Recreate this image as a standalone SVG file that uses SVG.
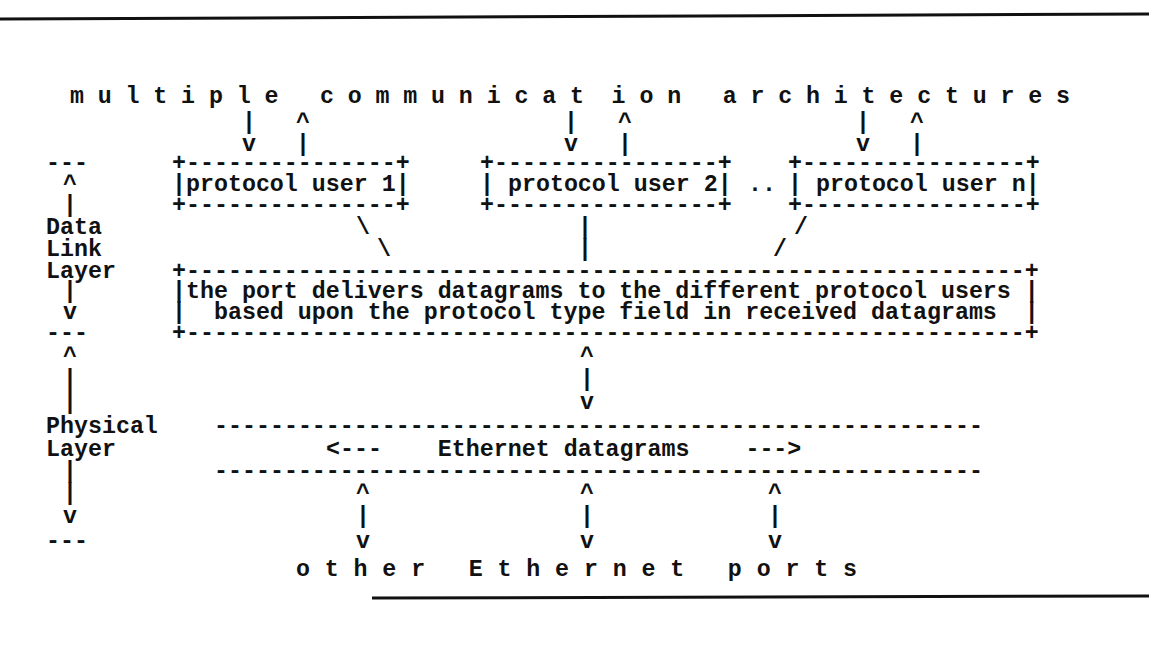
<svg xmlns="http://www.w3.org/2000/svg" width="1149" height="660" viewBox="0 0 1149 660">
<style>
text{font-family:"Liberation Mono","DejaVu Sans Mono",monospace;font-size:23.3px;font-weight:bold;fill:#111;white-space:pre}
.rule{stroke:#111;stroke-width:3;fill:none}
</style>
<rect width="1149" height="660" fill="#fff"/>
<g id="rules">
<line class="rule" x1="0" y1="19" x2="1149" y2="14"/>
<line class="rule" x1="372" y1="598" x2="1149" y2="596"/>
</g>
<g id="architectures">
<text x="70" y="103" textLength="1000" lengthAdjust="spacing" xml:space="preserve">m u l t i p l e   c o m m u n i c a t  i o n   a r c h i t e c t u r e s</text>
</g>
<g id="layer-labels">
<text x="46" y="170">---</text>
<text x="63" y="191">^</text>
<text x="63" y="212">|</text>
<text x="46" y="234">Data</text>
<text x="46" y="256">Link</text>
<text x="46" y="278">Layer</text>
<text x="63" y="298">|</text>
<text x="63" y="319">v</text>
<text x="46" y="340">---</text>
<text x="63" y="363">^</text>
<text x="63" y="386">|</text>
<text x="63" y="409">|</text>
<text x="46" y="433">Physical</text>
<text x="46" y="456">Layer</text>
<text x="63" y="478">|</text>
<text x="63" y="500">|</text>
<text x="63" y="523">v</text>
<text x="46" y="548">---</text>
</g>
<g id="protocol-user-1">
<text x="172" y="170">+---------------+</text>
<text x="172" y="191">|protocol user 1|</text>
<text x="172" y="212">+---------------+</text>
</g>
<g id="protocol-user-2">
<text x="480" y="170">+----------------+</text>
<text x="480" y="191" xml:space="preserve">| protocol user 2|</text>
<text x="480" y="212">+----------------+</text>
</g>
<g id="ellipsis">
<text x="748" y="191">..</text>
</g>
<g id="protocol-user-n">
<text x="788" y="170">+----------------+</text>
<text x="788" y="191" xml:space="preserve">| protocol user n|</text>
<text x="788" y="212">+----------------+</text>
</g>
<g id="port">
<text x="172" y="278">+------------------------------------------------------------+</text>
<text x="172" y="298" xml:space="preserve">|the port delivers datagrams to the different protocol users |</text>
<text x="172" y="319" xml:space="preserve">|  based upon the protocol type field in received datagrams  |</text>
<text x="172" y="340">+------------------------------------------------------------+</text>
</g>
<g id="ethernet">
<text x="214" y="433">-------------------------------------------------------</text>
<text x="326" y="456" xml:space="preserve">&lt;---    Ethernet datagrams    ---&gt;</text>
<text x="214" y="478">-------------------------------------------------------</text>
</g>
<g id="other-ports">
<text x="296" y="576" textLength="561" lengthAdjust="spacing" xml:space="preserve">o t h e r   E t h e r n e t   p o r t s</text>
</g>
<g id="connectors">
<text x="242" y="129">|</text><text x="296" y="129">^</text>
<text x="564" y="129">|</text><text x="618" y="129">^</text>
<text x="856" y="129">|</text><text x="910" y="129">^</text>
<text x="242" y="151">v</text><text x="296" y="151">|</text>
<text x="564" y="151">v</text><text x="618" y="151">|</text>
<text x="856" y="151">v</text><text x="910" y="151">|</text>
<text x="356" y="234">\</text><text x="578" y="234">|</text><text x="794" y="234">/</text>
<text x="377" y="256">\</text><text x="578" y="256">|</text><text x="773" y="256">/</text>
<text x="580" y="363">^</text>
<text x="580" y="386">|</text>
<text x="580" y="409">v</text>
<text x="356" y="500">^</text><text x="580" y="500">^</text><text x="768" y="500">^</text>
<text x="356" y="523">|</text><text x="580" y="523">|</text><text x="768" y="523">|</text>
<text x="356" y="548">v</text><text x="580" y="548">v</text><text x="768" y="548">v</text>
</g>
</svg>
